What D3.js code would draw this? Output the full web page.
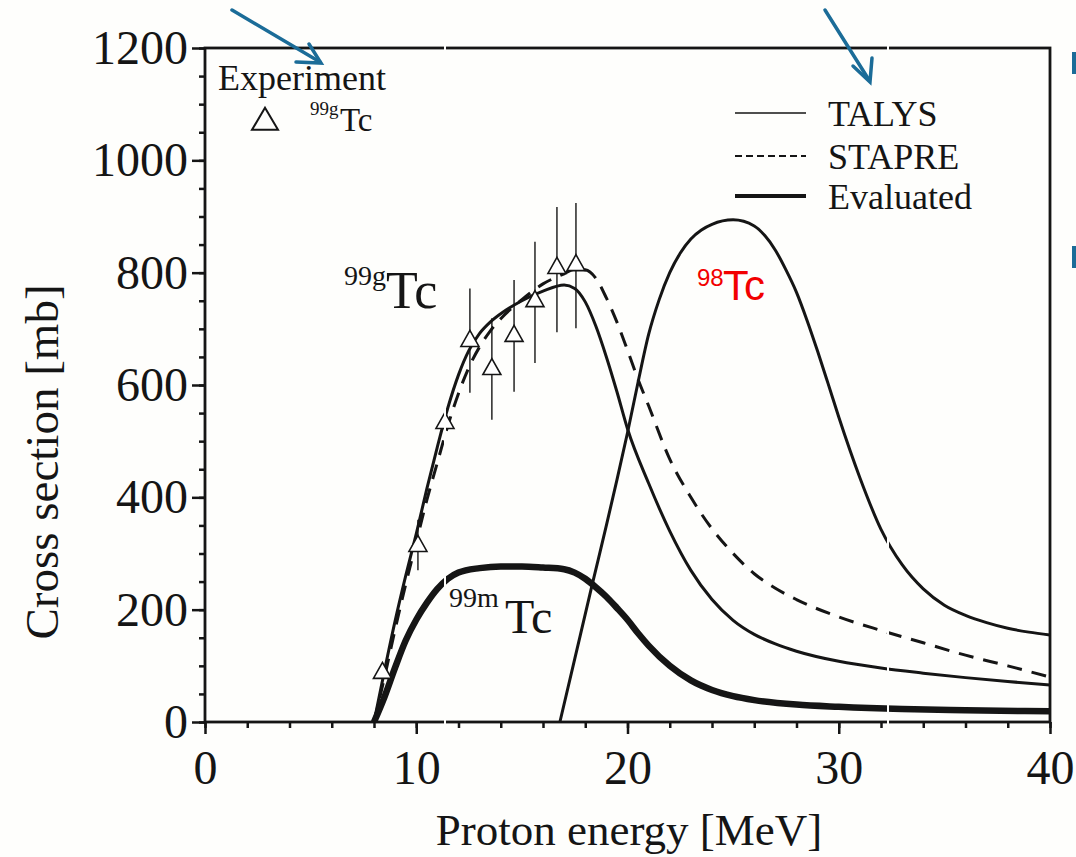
<!DOCTYPE html>
<html><head><meta charset="utf-8">
<script src="https://cdn.jsdelivr.net/npm/d3@7"></script>
<style>body{margin:0;background:#fff}</style>
</head><body><svg id="c" width="1076" height="857"></svg>
<script>
// ---- data ----
const xMajorTicks = [0, 10, 20, 30, 40];
const yMajorTicks = [0, 200, 400, 600, 800, 1000, 1200];

// 99gTc, TALYS (solid)
const talysE = [8, 8.5, 9, 9.5, 10, 10.5, 11, 11.5, 12, 12.5, 13, 13.5, 14, 15, 16, 17, 17.5, 18, 18.5, 19, 19.5, 20, 21, 22, 23, 24, 25, 26, 27, 28, 30, 32, 34, 36, 38, 40];
const talysV = [0, 92, 180, 260, 335, 415, 490, 560, 618, 662, 692, 712, 727, 750, 767, 778, 772, 748, 705, 650, 588, 522, 425, 340, 270, 218, 181, 156, 139, 126, 108, 96, 87, 79, 72, 66];

// 99gTc, STAPRE (dashed)
const stapreE = [8, 8.5, 9, 9.5, 10, 10.5, 11, 11.5, 12, 12.5, 13, 13.5, 14, 15, 16, 17, 17.5, 18, 18.5, 19, 19.5, 20, 20.5, 21, 22, 23, 24, 25, 26, 27, 28, 30, 32, 34, 36, 38, 40];
const stapreV = [0, 80, 165, 245, 320, 395, 462, 528, 585, 632, 668, 696, 718, 752, 780, 798, 806, 805, 790, 755, 712, 662, 610, 563, 468, 400, 344, 300, 264, 238, 218, 187, 163, 141, 119, 100, 80];

// 99mTc, evaluated (thick)
const mE = [8, 8.5, 9, 9.5, 10, 10.5, 11, 11.5, 12, 13, 14, 15, 16, 17, 17.5, 18, 18.5, 19, 19.5, 20, 20.5, 21, 22, 23, 24, 25, 26, 28, 30, 33, 36, 40];
const mV = [0, 45, 97, 145, 182, 212, 237, 255, 266, 274, 277, 277, 275, 272, 266, 255, 240, 223, 203, 182, 158, 136, 100, 74, 57, 46, 39, 31, 27, 23, 21, 19];

// 98Tc
const tc98E = [16.8, 17.5, 18.3, 19, 19.5, 20, 20.5, 21, 21.5, 22, 22.5, 23, 23.5, 24, 25, 26, 26.5, 27, 27.5, 28, 28.5, 29, 29.5, 30, 31, 32, 33, 34, 35, 36, 37, 38, 39, 40];
const tc98V = [0, 112, 240, 350, 431, 515, 605, 690, 752, 800, 835, 860, 876, 886, 894, 883, 866, 840, 805, 765, 715, 660, 602, 543, 435, 343, 280, 237, 208, 190, 177, 167, 160, 155];

// experiment 99gTc
const expE = [8.4, 10.08, 11.36, 12.54, 13.58, 14.63, 15.62, 16.66, 17.56];
const expV = [89, 315, 534, 680, 630, 689, 751, 810, 815];
const expLo = [80, 270, 510, 586, 538, 588, 639, 694, 701];
const expHi = [100, 360, 560, 772, 719, 787, 855, 917, 924];

const legendLabels = ["TALYS", "STAPRE", "Evaluated"];

// ---- drawing ----
const svg = d3.select("#c");
svg.append("rect").attr("width", 1076).attr("height", 857).attr("fill", "#fefefc");

const x = d3.scaleLinear().domain([0, 40]).range([205, 1050]);
const y = d3.scaleLinear().domain([0, 1200]).range([722, 48]);
const ink = "#151515";
const serif = "'Liberation Serif','Times New Roman',serif";
const sans = "'Liberation Sans',Arial,sans-serif";

// axes
const gx = svg.append("g").attr("transform", "translate(0,722)");
gx.call(d3.axisBottom(x).tickValues(d3.range(0, 41, 2)).tickSize(6).tickFormat(""));
const gx2 = svg.append("g").attr("transform", "translate(0,722)");
gx2.call(d3.axisBottom(x).tickValues(xMajorTicks).tickSize(12).tickPadding(16).tickFormat(d3.format("d")));
const gy = svg.append("g").attr("transform", "translate(205,0)");
gy.call(d3.axisLeft(y).tickValues(d3.range(0, 1201, 50)).tickSize(6).tickFormat(""));
const gy2 = svg.append("g").attr("transform", "translate(205,0)");
gy2.call(d3.axisLeft(y).tickValues(yMajorTicks).tickSize(13).tickPadding(4).tickFormat(d3.format("d")));
[gx, gx2, gy, gy2].forEach(g => {
  g.selectAll(".domain").remove();
  g.selectAll("line").attr("stroke", ink).attr("stroke-width", 2.5);
  g.selectAll("text").attr("fill", ink).style("font-family", serif).style("font-size", "48px");
});
svg.append("rect").attr("x", x(0)).attr("y", y(1200)).attr("width", x(40) - x(0)).attr("height", y(0) - y(1200))
  .attr("fill", "none").attr("stroke", ink).attr("stroke-width", 2.8);

// axis titles
svg.append("text").attr("x", 629).attr("y", 845).attr("text-anchor", "middle")
  .style("font-family", serif).style("font-size", "45px").attr("fill", ink).text("Proton energy [MeV]");
svg.append("text").attr("transform", "rotate(-90)").attr("x", -462).attr("y", 58).attr("text-anchor", "middle")
  .style("font-family", serif).style("font-size", "47px").attr("fill", ink).text("Cross section [mb]");

// curves
const line = (E, V) => d3.line().x((d, i) => x(E[i])).y((d, i) => y(V[i])).curve(d3.curveMonotoneX)(E);
const plot = svg.append("g");
plot.append("path").attr("d", line(stapreE, stapreV)).attr("fill", "none").attr("stroke", ink)
  .attr("stroke-width", 3).attr("stroke-dasharray", "15,10");
plot.append("path").attr("d", line(talysE, talysV)).attr("fill", "none").attr("stroke", ink).attr("stroke-width", 3);
plot.append("path").attr("d", line(mE, mV)).attr("fill", "none").attr("stroke", ink).attr("stroke-width", 6.5);
plot.append("path").attr("d", line(tc98E, tc98V)).attr("fill", "none").attr("stroke", ink).attr("stroke-width", 3);

// experiment points
const tri = (cx, cy, w, h) => `M${cx},${cy - h * 0.6}L${cx + w / 2},${cy + h * 0.4}L${cx - w / 2},${cy + h * 0.4}Z`;
const pts = plot.append("g");
expE.forEach((e, i) => {
  pts.append("line").attr("x1", x(e)).attr("x2", x(e)).attr("y1", y(expLo[i])).attr("y2", y(expHi[i]))
    .attr("stroke", ink).attr("stroke-width", 1.4);
});
expE.forEach((e, i) => {
  pts.append("path").attr("d", tri(x(e), y(expV[i]), 18, 16)).attr("fill", "#fff").attr("stroke", ink).attr("stroke-width", 1.6);
});

// scan artefacts: thin white vertical breaks across the frame
[445, 888].forEach(px => {
  svg.append("line").attr("x1", px).attr("x2", px).attr("y1", 40).attr("y2", 728)
    .attr("stroke", "#fefefc").attr("stroke-width", 2);
});

// in-plot legend (experiment)
svg.append("text").attr("x", 218).attr("y", 90).style("font-family", serif).style("font-size", "36px").attr("fill", ink).text("Experiment");
svg.append("path").attr("d", tri(265, 121, 26, 22)).attr("fill", "none").attr("stroke", ink).attr("stroke-width", 2);
svg.append("text").attr("x", 310).attr("y", 115).style("font-family", serif).style("font-size", "19px").attr("fill", ink).text("99g");
svg.append("text").attr("x", 340).attr("y", 131).style("font-family", serif).style("font-size", "33px").attr("fill", ink).text("Tc");

// line legend
const legY = [113, 156, 196];
const legStyles = [{w: 1.6, d: null}, {w: 2.2, d: "7,4"}, {w: 3.8, d: null}];
legendLabels.forEach((lab, i) => {
  svg.append("line").attr("x1", 735).attr("x2", 806).attr("y1", legY[i]).attr("y2", legY[i])
    .attr("stroke", ink).attr("stroke-width", legStyles[i].w).attr("stroke-dasharray", legStyles[i].d);
  svg.append("text").attr("x", 828).attr("y", legY[i] + 13).style("font-family", serif).style("font-size", "36px")
    .attr("fill", ink).text(lab);
});

// curve labels
svg.append("text").attr("x", 344).attr("y", 285).style("font-family", serif).style("font-size", "28px").attr("fill", ink).text("99g");
svg.append("text").attr("x", 386).attr("y", 308).style("font-family", serif).style("font-size", "52px").attr("fill", ink).text("Tc");
svg.append("text").attr("x", 449).attr("y", 607).style("font-family", serif).style("font-size", "28px").attr("fill", ink).text("99m");
svg.append("text").attr("x", 505).attr("y", 633).style("font-family", serif).style("font-size", "48px").attr("fill", ink).text("Tc");
svg.append("text").attr("x", 697).attr("y", 286).style("font-family", sans).style("font-size", "24px").attr("fill", "#f20000").text("98");
svg.append("text").attr("x", 723).attr("y", 300).style("font-family", sans).style("font-size", "42px").attr("fill", "#f20000").text("Tc");

// blue annotation arrows
const blue = "#1b6c98";
const ann = svg.append("g").attr("stroke", blue).attr("stroke-width", 3.5).attr("fill", "none").attr("stroke-linecap", "round");
ann.append("line").attr("x1", 232).attr("y1", 10).attr("x2", 320).attr("y2", 62);
ann.append("path").attr("d", "M296,62L321,63L309,44");
ann.append("line").attr("x1", 825).attr("y1", 10).attr("x2", 869).attr("y2", 80);
ann.append("path").attr("d", "M853,66L870,82L872,58");
svg.append("rect").attr("x", 1072).attr("y", 52).attr("width", 4).attr("height", 22).attr("fill", blue);
svg.append("rect").attr("x", 1072).attr("y", 246).attr("width", 4).attr("height", 22).attr("fill", blue);
</script></body></html>
